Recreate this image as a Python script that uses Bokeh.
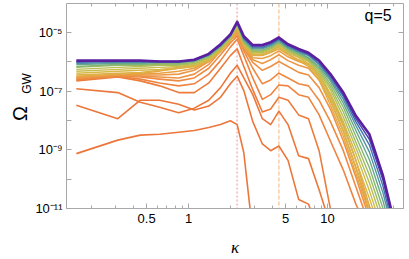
import math
from bokeh.plotting import figure
from bokeh.models import (Range1d, LogAxis, FixedTicker, Span, Label,
                          CustomJSTickFormatter)
from bokeh.embed import file_html
from bokeh.resources import INLINE

nan = float("nan")

# ---------------- data ----------------
kappa = [0.156, 0.31, 0.45, 0.62, 0.85, 1.1, 1.4, 1.7, 2.0, 2.24, 2.5, 2.9, 3.4,
         3.9, 4.47, 5.2, 6.2, 7.3, 8.7, 10.5, 13, 16, 20, 25, 29]

# log10(Omega_GW) per snapshot, earliest (orange) -> latest (purple)
c1 = [-9.13, -8.67, -8.50, -8.47, -8.40, -8.34, -8.24, -8.14, -8.01, -8.14, -9.10, -11.84,
      nan, nan, nan, nan, nan, nan, nan, nan, nan, nan, nan, nan, nan]
c2 = [-7.48, -7.94, -7.31, -7.31, -7.45, -7.64, -7.51, -7.21, -6.75, -6.49, -6.98, -8.04, -8.80,
      -9.03, -8.87, -9.36, -10.69, -10.85, -11.84, nan, nan, nan, nan, nan, nan]
c3 = [-6.92, -7.05, -7.38, -7.55, -7.74, -7.58, -7.31, -6.88, -6.39, -6.12, -6.55, -7.12, -7.94,
      -8.14, -7.68, -8.14, -9.20, -9.30, -10.36, -11.58, nan, nan, nan, nan, nan]
c4 = [-6.65, -6.52, -6.65, -6.82, -7.05, -7.05, -6.72, -6.22, -5.79, -5.56, -6.16, -6.95, -7.71,
      -7.61, -7.21, -7.31, -7.81, -7.94, -9.03, -11.02, -12.01, nan, nan, nan, nan]
c5 = [-6.62, -6.49, -6.59, -6.72, -6.82, -6.75, -6.42, -5.96, -5.50, -5.23, -5.79, -6.55, -7.28,
      -7.12, -6.79, -6.82, -7.12, -7.21, -7.81, -8.70, -9.69, -10.85, -11.84, nan, nan]
c6 = [-6.59, -6.49, -6.52, -6.59, -6.65, -6.55, -6.22, -5.76, -5.36, -5.13, -5.63, -6.22, -6.75,
      -6.62, -6.39, -6.55, -6.75, -6.82, -7.31, -8.04, -9.03, -10.26, -11.58, nan, nan]
c7 = [-6.55, -6.45, -6.49, -6.52, -6.55, -6.42, -6.09, -5.63, -5.26, -5.07, -5.56, -6.02, -6.29,
      -6.16, -5.99, -6.16, -6.36, -6.45, -6.88, -7.61, -8.70, -9.93, -11.35, nan, nan]
c8 = [-6.55, -6.45, -6.45, -6.45, -6.42, -6.29, -5.99, -5.56, -5.20, -5.00, -5.53, -5.93, -6.06,
      -5.93, -5.76, -5.96, -6.12, -6.22, -6.62, -7.31, -8.37, -9.60, -11.12, nan, nan]
c9 = [-6.52, -6.45, -6.42, -6.39, -6.32, -6.22, -5.96, -5.53, -5.17, -4.93, -5.50, -5.86, -5.89,
      -5.79, -5.63, -5.83, -5.99, -6.09, -6.45, -7.12, -8.14, -9.36, -10.92, -12.5, nan]
b1 = [-6.49, -6.42, -6.39, -6.32, -6.22, -6.16, -5.99, -5.66, -5.30, -4.87, -5.50, -5.79, -5.79,
      -5.69, -5.56, -5.76, -5.96, -6.16, -6.62, -7.48, -8.54, -9.79, -11.18, -12.5, nan]
b2 = [-6.45, -6.39, -6.36, -6.29, -6.22, -6.16, -5.96, -5.63, -5.26, -4.83, -5.46, -5.76, -5.76,
      -5.66, -5.50, -5.73, -5.93, -6.09, -6.55, -7.35, -8.37, -9.60, -10.92, -12.3, nan]
b3 = [-6.39, -6.32, -6.29, -6.26, -6.19, -6.12, -5.93, -5.60, -5.23, -4.80, -5.43, -5.73, -5.73,
      -5.63, -5.46, -5.69, -5.86, -6.06, -6.49, -7.21, -8.21, -9.36, -10.65, -12.01, nan]
b4 = [-6.32, -6.26, -6.22, -6.19, -6.16, -6.09, -5.89, -5.56, -5.20, -4.77, -5.40, -5.69, -5.69,
      -5.60, -5.43, -5.66, -5.83, -5.99, -6.42, -7.08, -8.04, -9.13, -10.39, -11.78, nan]
b5 = [-6.26, -6.19, -6.16, -6.12, -6.12, -6.06, -5.86, -5.53, -5.17, -4.74, -5.36, -5.66, -5.66,
      -5.56, -5.40, -5.63, -5.79, -5.96, -6.36, -6.95, -7.88, -8.93, -10.12, -11.51, -12.5]
b6 = [-6.19, -6.12, -6.12, -6.09, -6.09, -6.02, -5.83, -5.50, -5.17, -4.74, -5.33, -5.63, -5.63,
      -5.53, -5.36, -5.60, -5.76, -5.93, -6.29, -6.85, -7.71, -8.74, -9.86, -11.25, -12.2]
b7 = [-6.16, -6.09, -6.09, -6.06, -6.06, -5.99, -5.79, -5.50, -5.13, -4.70, -5.30, -5.60, -5.60,
      -5.50, -5.33, -5.56, -5.73, -5.89, -6.22, -6.75, -7.55, -8.54, -9.60, -10.98, -12.01]
b8 = [-6.09, -6.06, -6.06, -6.02, -6.02, -5.96, -5.79, -5.46, -5.13, -4.70, -5.26, -5.56, -5.56,
      -5.46, -5.30, -5.53, -5.69, -5.86, -6.16, -6.65, -7.41, -8.34, -9.33, -10.72, -11.84]
b9 = [-6.06, -6.02, -6.02, -6.02, -6.02, -5.96, -5.76, -5.46, -5.10, -4.67, -5.23, -5.53, -5.53,
      -5.43, -5.26, -5.50, -5.66, -5.79, -6.09, -6.59, -7.28, -8.17, -9.07, -10.45, -11.61]
b10 = [-6.02, -5.99, -5.99, -5.99, -5.99, -5.96, -5.76, -5.43, -5.10, -4.67, -5.20, -5.50, -5.50,
       -5.40, -5.23, -5.46, -5.63, -5.76, -6.06, -6.52, -7.18, -8.04, -8.83, -10.22, -11.45]
b11 = [-5.99, -5.96, -5.96, -5.99, -5.99, -5.93, -5.73, -5.43, -5.07, -4.64, -5.17, -5.46, -5.46,
       -5.36, -5.20, -5.43, -5.60, -5.73, -5.99, -6.45, -7.12, -7.94, -8.64, -10.02, -11.28]
b12 = [-5.96, -5.96, -5.96, -5.99, -5.99, -5.93, -5.73, -5.40, -5.07, -4.64, -5.13, -5.43, -5.43,
       -5.33, -5.17, -5.40, -5.56, -5.69, -5.96, -6.42, -7.05, -7.84, -8.47, -9.86, -11.12]

snapshots = [c1, c2, c3, c4, c5, c6, c7, c8, c9,
             b1, b2, b3, b4, b5, b6, b7, b8, b9, b10, b11, b12]

resonance_kappa = [2.236, 4.472]

x_major_ticks = [0.5, 1, 5, 10]
x_minor_ticks = [0.2, 0.3, 0.4, 0.6, 0.7, 0.8, 0.9, 2, 3, 4, 6, 7, 8, 9, 20, 30]
y_major_ticks = [1e-11, 1e-10, 1e-9, 1e-8, 1e-7, 1e-6, 1e-5, 1e-4]

# ---------------- style ----------------
colors = ["#EC763A", "#EC763A", "#EC773A", "#EC7B3C", "#EE8440", "#EE8A42", "#EE9144",
          "#EC9844", "#E9A045", "#E4A844", "#DEB045", "#D6B748", "#CABC4C", "#B6BE55",
          "#9EBC62", "#84B674", "#68A88A", "#5092A2", "#4270B4", "#4A46AC", "#5A20A0"]
widths = [1.6] * 9 + [1.4] * 11 + [2.6]

W, H = 409, 259
# frame edges in page pixels (left edge = where the side panels end up)
FL, FR, FT, FB = 66, 403, 3, 214
PX_PER_DEC_X, X_ONE = 139.0, 188.0
PX_PER_DEC_Y = 30.2

x0 = 10 ** ((FL - X_ONE) / PX_PER_DEC_X)
x1 = 10 ** ((FR - X_ONE) / PX_PER_DEC_X)
y0 = 1e-11
y1 = 10 ** (-11 + (FB - FT) / PX_PER_DEC_Y)

p = figure(width=W, height=H, x_axis_type="log", y_axis_type="log",
           x_range=Range1d(x0, x1), y_range=Range1d(y0, y1),
           output_backend="svg", toolbar_location=None,
           min_border_left=FL, min_border_right=W - FR,
           min_border_top=FT, min_border_bottom=H - FB)
p.outline_line_color = None
p.grid.visible = False
p.background_fill_color = "white"
p.border_fill_color = "white"

for sp, lc, dash in [(resonance_kappa[0], "#F5A8A8", "2 2"),
                     (resonance_kappa[1], "#F8C496", "4 2")]:
    p.add_layout(Span(location=sp, dimension="height", line_color=lc,
                      line_dash=dash, line_width=1.3, level="underlay"))

for s, c, w in zip(snapshots, colors, widths):
    p.line(kappa, [10 ** v for v in s], line_color=c, line_width=w,
           line_join="round")

sup_js = """
const e = Math.round(Math.log10(tick));
if (e % 2 === 0) return "";
const sup = {"-": "\\u207b", "0": "\\u2070", "1": "\\u00b9", "2": "\\u00b2", "3": "\\u00b3",
             "4": "\\u2074", "5": "\\u2075", "6": "\\u2076", "7": "\\u2077", "8": "\\u2078", "9": "\\u2079"};
return "10" + String(e).split("").map(c => sup[c]).join("");
"""

AX = "#a8a8a8"
def style(ax, major_in=5, minor_in=3):
    ax.axis_line_color = AX
    ax.major_tick_line_color = AX
    ax.minor_tick_line_color = AX
    ax.major_tick_in = major_in
    ax.major_tick_out = 0
    ax.minor_tick_in = minor_in
    ax.minor_tick_out = 0
    ax.major_label_text_font = "Liberation Sans"
    ax.major_label_text_font_size = "13px"
    ax.major_label_text_color = "black"

xax = p.xaxis[0]
xax.ticker = FixedTicker(ticks=x_major_ticks, minor_ticks=x_minor_ticks)
xax.formatter = CustomJSTickFormatter(code="return String(tick);")
style(xax)
xax.major_label_standoff = 5
xax.axis_label = "κ"
xax.axis_label_text_font = "Liberation Serif"
xax.axis_label_text_font_style = "italic"
xax.axis_label_text_font_size = "17px"
xax.axis_label_text_color = "black"
xax.axis_label_standoff = 12

BL = "\u2800"   # blank (non-whitespace) padding glyph
yax = p.yaxis[0]
yax.ticker = FixedTicker(ticks=y_major_ticks, minor_ticks=[])
yax.formatter = CustomJSTickFormatter(code=sup_js)
style(yax)
yax.major_label_standoff = 4
# subscript part of the y title, pushed upward by leading blank glyphs
yax.axis_label = BL * 5 + "GW"
yax.axis_label_text_font = "Liberation Sans"
yax.axis_label_text_font_style = "normal"
yax.axis_label_text_font_size = "12px"
yax.axis_label_text_color = "black"
yax.axis_label_standoff = -2

# main symbol of the y title on an outer, otherwise invisible axis
omega_ax = LogAxis(ticker=FixedTicker(ticks=[], minor_ticks=[]),
                   formatter=CustomJSTickFormatter(code="return '';"),
                   axis_line_color=None, major_tick_line_color=None,
                   minor_tick_line_color=None, major_tick_out=0, major_tick_in=0,
                   minor_tick_out=0, minor_tick_in=0, major_label_standoff=0,
                   axis_label="Ω" + BL, axis_label_text_font="Liberation Sans",
                   axis_label_text_font_style="normal",
                   axis_label_text_font_size="20px", axis_label_text_color="black",
                   axis_label_standoff=-13)
p.add_layout(omega_ax, "left")

blank = CustomJSTickFormatter(code="return '';")
top = LogAxis(ticker=FixedTicker(ticks=x_major_ticks, minor_ticks=x_minor_ticks),
              formatter=blank, major_label_standoff=0)
style(top)
top.major_label_text_font_size = "0px"
p.add_layout(top, "above")
right = LogAxis(ticker=FixedTicker(ticks=y_major_ticks, minor_ticks=[]),
                formatter=blank, major_label_standoff=0)
style(right)
right.major_label_text_font_size = "0px"
p.add_layout(right, "right")

p.add_layout(Label(x=364 - FL, y=FB - 21, x_units="screen", y_units="screen",
                   text="q=5", text_align="left", text_baseline="middle",
                   text_font="Liberation Sans", text_font_size="16px",
                   text_color="black"))

open("out.html", "w").write(file_html(p, INLINE))
